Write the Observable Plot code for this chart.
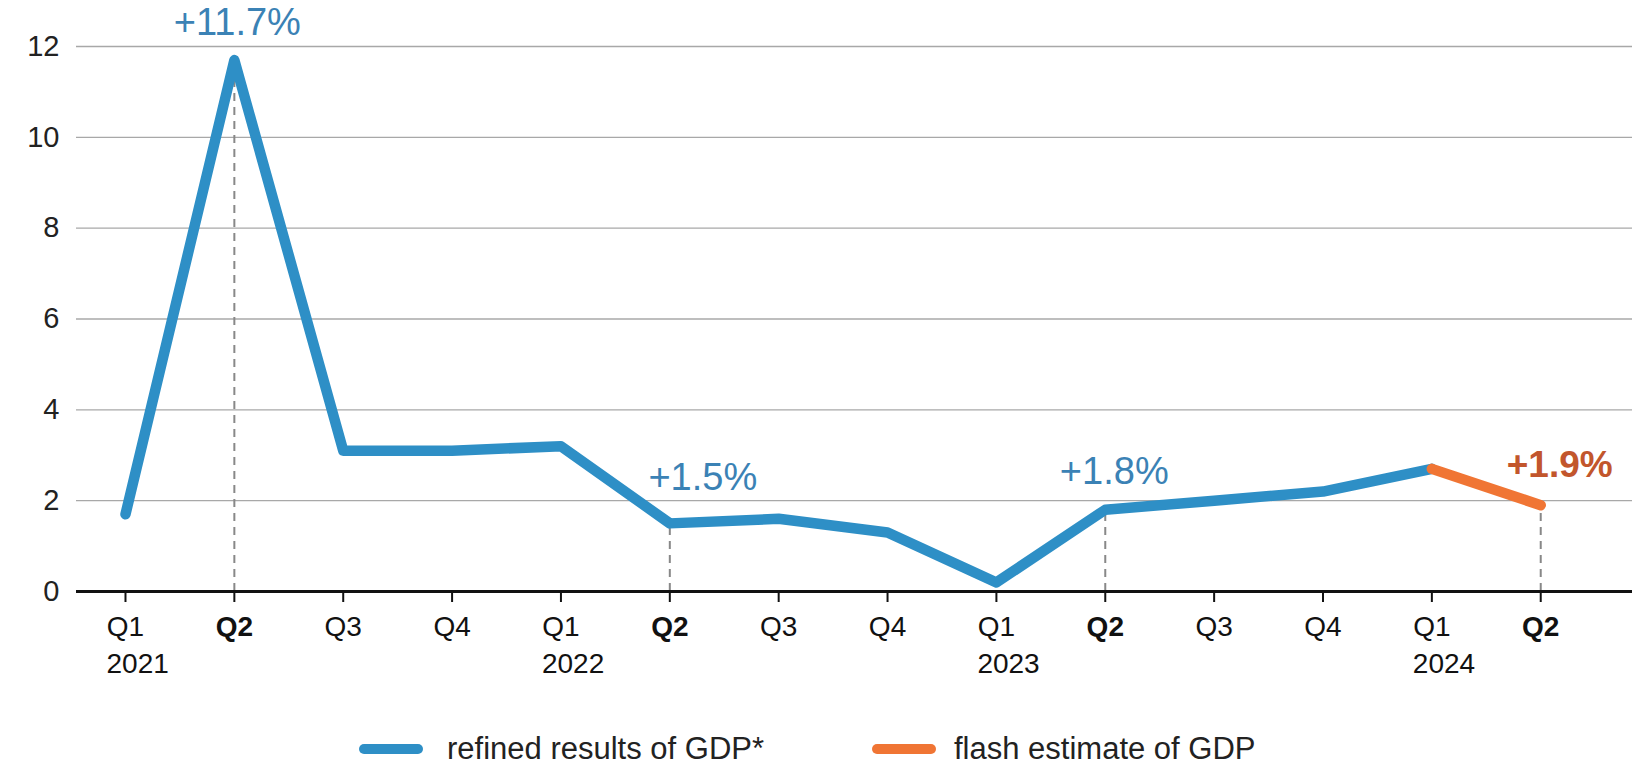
<!DOCTYPE html>
<html><head><meta charset="utf-8">
<script src="https://cdn.jsdelivr.net/npm/d3@7"></script>
<script src="https://cdn.jsdelivr.net/npm/@observablehq/plot@0.6"></script>
<style>
body{margin:0;background:#fff;font-family:"Liberation Sans",Arial,sans-serif;}
#wrap{position:relative;width:1632px;height:768px;}
#chart{position:absolute;left:0;top:0;}
.item{position:absolute;top:733px;height:32px;line-height:32px;display:flex;align-items:center;font-size:31px;color:#222;white-space:nowrap;}
.sw{width:64px;height:10px;border-radius:5px;}
</style></head><body>
<div id="wrap"><div id="chart"></div>
<div class="item" style="left:359px"><span class="sw" style="background:#2E8FC6;margin-right:24px"></span>refined results of GDP*</div>
<div class="item" style="left:872px"><span class="sw" style="background:#F07534;margin-right:18px"></span>flash estimate of GDP</div>
</div>
<script>
const quarters = ["Q1","Q2","Q3","Q4","Q1","Q2","Q3","Q4","Q1","Q2","Q3","Q4","Q1","Q2"];
const years    = ["2021","","","","2022","","","","2023","","","","2024",""];
const values   = [1.7, 11.7, 3.1, 3.1, 3.2, 1.5, 1.6, 1.3, 0.2, 1.8, 2.0, 2.2, 2.7, 1.9];
const flashStart = 12; // flash estimate segment: from index 12 to the last quarter
const annotIdx  = [1, 5, 9, 13];
const annotText = ["+11.7%", "+1.5%", "+1.8%", "+1.9%"];
const yTicks = [0, 2, 4, 6, 8, 10, 12];

const idx = d3.range(quarters.length);
const pts = idx.map(i => ({i, v: values[i], q: quarters[i], yr: years[i]}));
const refined = pts.slice(0, flashStart + 1);
const flash = pts.slice(flashStart);
const annots = annotIdx.map((i, k) => ({i, v: values[i], text: annotText[k], k}));
const annDx = [3, 33, 9, 19];
const annDy = [-37, -46, -38, -40];

const H = 700;
const chart = Plot.plot({
  width: 1632, height: H,
  marginLeft: 76, marginRight: 0, marginTop: 46, marginBottom: H - 591,
  style: {fontFamily: '"Liberation Sans", Arial, sans-serif', background: "white", overflow: "visible"},
  x: {type: "linear", domain: [-0.45, 13.843], axis: null},
  y: {domain: [0, 12], axis: null},
  marks: [
    Plot.gridY(yTicks.filter(d => d > 0), {stroke: "#a8a8a8", strokeOpacity: 1, strokeWidth: 1.3}),
    Plot.axisY(yTicks, {label: null, tickSize: 0, tickPadding: 17, fontSize: 29, fill: "#222", textAnchor: "end"}),
    Plot.ruleX(annots, {x: "i", y1: 0, y2: "v", stroke: "#888", strokeWidth: 2, strokeDasharray: "8,6"}),
    Plot.ruleY([0], {stroke: "#111", strokeWidth: 3}),
    Plot.axisX(idx.filter(i => quarters[i] !== "Q2"), {label: null, tickSize: 11, strokeWidth: 2, stroke: "#111", tickPadding: 14, fontSize: 28, fill: "#111", tickFormat: i => quarters[i]}),
    Plot.axisX(idx.filter(i => quarters[i] === "Q2"), {label: null, tickSize: 11, strokeWidth: 2, stroke: "#111", tickPadding: 14, fontSize: 28, fill: "#111", fontWeight: "bold", tickFormat: i => quarters[i]}),
    Plot.text(pts.filter(d => d.yr), {x: "i", y: 0, text: "yr", textAnchor: "start", dx: -19, dy: 73, fontSize: 28, fill: "#111", lineAnchor: "middle"}),
    Plot.line(refined, {x: "i", y: "v", stroke: "#2E8FC6", strokeWidth: 10.5, strokeLinecap: "round", strokeLinejoin: "round"}),
    Plot.line(flash, {x: "i", y: "v", stroke: "#F07534", strokeWidth: 10.5, strokeLinecap: "round", strokeLinejoin: "round"}),
    ...annots.map(a => Plot.text([a], {x: "i", y: "v", text: "text", fontSize: a.k === 3 ? 37 : 38,
      fontWeight: a.k === 3 ? "bold" : "normal", fill: a.k === 3 ? "#C2562C" : "#3B82B5",
      lineAnchor: "middle", dx: annDx[a.k], dy: annDy[a.k]}))
  ]
});
document.getElementById("chart").appendChild(chart);
</script>
</body></html>
